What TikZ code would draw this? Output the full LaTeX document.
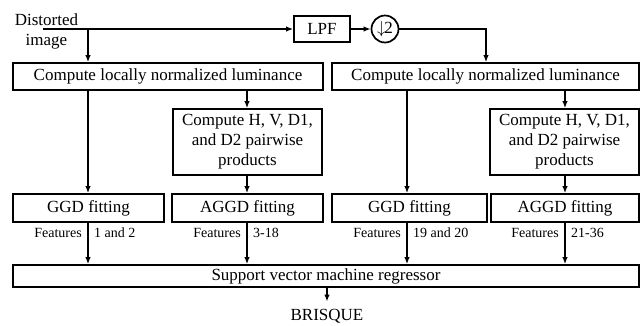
\documentclass[tikz,border=0pt]{standalone}
\usepackage{fontspec}
\setmainfont{Liberation Serif}
\usetikzlibrary{arrows.meta}
\begin{document}
\begin{tikzpicture}[x=1pt,y=-1pt,
  box/.style={draw,line width=1.7pt,inner sep=0pt,align=center,
    font=\fontsize{17}{20}\selectfont},
  flow/.style={line width=1.7pt,-{Latex[length=7pt,width=5.5pt]}},
  feat/.style={inner sep=0pt,font=\fontsize{14}{16}\selectfont},
  lbl/.style={inner sep=0pt,align=center,font=\fontsize{17}{20}\selectfont}]
\useasboundingbox (0,0) rectangle (641,325);

% column positions of the vertical connectors
\coordinate (c1) at (88,0);
\coordinate (c2) at (247,0);
\coordinate (c3) at (407,0);
\coordinate (c4) at (565,0);
\coordinate (c5) at (486,0);

% input and low-pass / downsampling branch
\node[lbl] (src) at (46.5,31) {Distorted\\image};
\coordinate (in) at (43,29);
\coordinate (split) at (88,29);
\node[box,minimum width=56pt,minimum height=26pt] (lpf) at (322,29) {LPF};
\node[box,circle,minimum size=27pt] (ds) at (385,29) {\mbox{$\downarrow$\kern-1.5pt2}};

% first scale
\node[box,minimum width=310pt,minimum height=27pt] (lum1) at (168,76.5) {Compute locally normalized luminance};
\node[box,minimum width=149pt,minimum height=66pt] (prod1) at (247.5,142) {Compute H, V, D1,\\and D2 pairwise\\products};
\node[box,minimum width=151pt,minimum height=28pt] (ggd1) at (88.5,208) {GGD fitting};
\node[box,minimum width=151pt,minimum height=28pt] (aggd1) at (247.5,208) {AGGD fitting};

% second scale
\node[box,minimum width=307pt,minimum height=27pt] (lum2) at (485.5,76.5) {Compute locally normalized luminance};
\node[box,minimum width=149pt,minimum height=66pt] (prod2) at (564.5,142) {Compute H, V, D1,\\and D2 pairwise\\products};
\node[box,minimum width=155pt,minimum height=28pt] (ggd2) at (409.5,208) {GGD fitting};
\node[box,minimum width=148pt,minimum height=28pt] (aggd2) at (565,208) {AGGD fitting};

% regressor and output
\node[box,minimum width=626pt,minimum height=22pt] (svm) at (326,276) {Support vector machine regressor};
\node[lbl,anchor=base,inner ysep=7pt] (out) at (327,320) {BRISQUE};

% feature labels
\node[feat,anchor=east] (f1a) at (82,233) {Features};
\node[feat,anchor=west] (f1b) at (94,233) {1 and 2};
\node[feat,anchor=east] (f2a) at (241,233) {Features};
\node[feat,anchor=west] (f2b) at (253,233) {3-18};
\node[feat,anchor=east] (f3a) at (401,233) {Features};
\node[feat,anchor=west] (f3b) at (413,233) {19 and 20};
\node[feat,anchor=east] (f4a) at (559,233) {Features};
\node[feat,anchor=west] (f4b) at (571,233) {21-36};

% connectors
\draw[flow] (in) -- (lpf.west);
\draw[flow] (split) -- (lum1.north -| split);
\draw[flow] (lpf.east) -- (ds.west);
\draw[flow] (ds.east) -| (lum2.north -| c5);

\draw[flow] (lum1.south -| c1) -- (ggd1.north -| c1);
\draw[flow] (lum1.south -| c2) -- (prod1.north -| c2);
\draw[flow] (prod1.south -| c2) -- (aggd1.north -| c2);
\draw[flow] (lum2.south -| c3) -- (ggd2.north -| c3);
\draw[flow] (lum2.south -| c4) -- (prod2.north -| c4);
\draw[flow] (prod2.south -| c4) -- (aggd2.north -| c4);

\draw[flow] (ggd1.south -| c1) -- (svm.north -| c1);
\draw[flow] (aggd1.south -| c2) -- (svm.north -| c2);
\draw[flow] (ggd2.south -| c3) -- (svm.north -| c3);
\draw[flow] (aggd2.south -| c4) -- (svm.north -| c4);

\draw[flow] (svm.south -| out) -- (out.north);
\end{tikzpicture}
\end{document}
